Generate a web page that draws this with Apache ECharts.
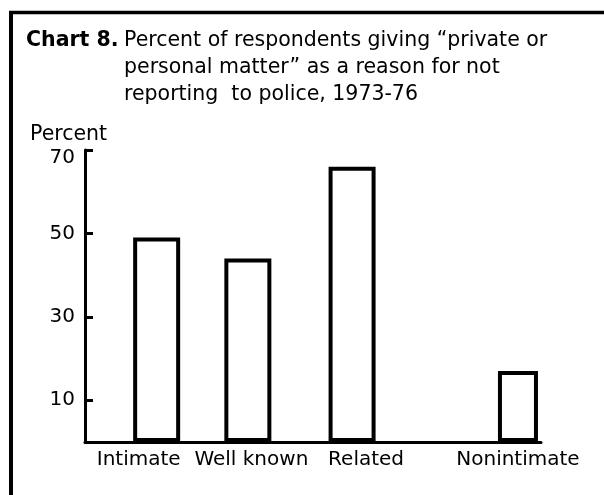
<!DOCTYPE html>
<html>
<head>
<meta charset="utf-8">
<script src="https://cdn.jsdelivr.net/npm/echarts@6/dist/echarts.min.js"></script>
<style>
  html, body { margin: 0; padding: 0; background: #fff; }
  #chart { width: 604px; height: 495px; }
</style>
</head>
<body>
<div id="chart"></div>
<script>
// ---- data ----
const categories = ['Intimate', 'Well known', 'Related', 'Nonintimate'];
const percents = [49, 44, 66, 17];
const yTicks = [10, 30, 50, 70];
// x-axis slots (blank slots reproduce the uneven spacing of the original)
const xSlots = ['', '', '', '', '', 'Intimate', '', '', '', '', '', '', 'Well known',
  '', '', '', '', '', '', '', 'Related', '', '', '', '', '', '', '', '', '', '', '', '',
  'Nonintimate', ''];
const titleLead = 'Chart 8.';
const titleText = 'Percent of respondents giving \u201cprivate or\npersonal matter\u201d as a reason for not\nreporting  to police, 1973-76';
const yName = 'Percent';

const FONT = 'DejaVu Sans';
const narrowCat = 'Nonintimate';

function valueFor(slot, wantNarrow) {
  const i = categories.indexOf(slot);
  if (i < 0) return null;
  const isNarrow = slot === narrowCat;
  return isNarrow === wantNarrow ? percents[i] : null;
}

const labelStyleKey = { 'Intimate': 'a', 'Well known': 'b', 'Related': 'c', 'Nonintimate': 'd' };
const topTick = yTicks[yTicks.length - 1];

const chart = echarts.init(document.getElementById('chart'), null, { renderer: 'canvas' });
chart.setOption({
  backgroundColor: '#ffffff',
  animation: false,
  title: [
    { text: titleLead, left: 26, top: 27.6, padding: 0,
      textStyle: { fontFamily: FONT, fontSize: 20.5, fontWeight: 'bold', color: '#000', lineHeight: 26.7 } },
    { text: titleText, left: 124, top: 27.6, padding: 0,
      textStyle: { fontFamily: FONT, fontSize: 20.5, fontWeight: 'normal', color: '#000', lineHeight: 26.7 } },
    { text: yName, left: 30, top: 121.5, padding: 0,
      textStyle: { fontFamily: FONT, fontSize: 20.5, fontWeight: 'normal', color: '#000', lineHeight: 26.7 } }
  ],
  grid: { left: 85, right: 63, top: 150, bottom: 53, outerBoundsMode: 'none', containLabel: false },
  xAxis: {
    type: 'category',
    data: xSlots,
    boundaryGap: true,
    axisLine: { show: true, lineStyle: { color: '#000', width: 3 } },
    axisTick: { show: false },
    splitLine: { show: false },
    axisLabel: {
      interval: 0,
      margin: 8,
      color: '#000',
      fontFamily: FONT,
      fontSize: 20,
      formatter: function (v) {
        if (!v) return '';
        return '{' + labelStyleKey[v] + '|' + v + '}';
      },
      rich: {
        a: { fontFamily: FONT, fontSize: 20, color: '#000', padding: [0, 36, 0, 0] },
        b: { fontFamily: FONT, fontSize: 20, color: '#000', padding: [0, 0, 0, 7] },
        c: { fontFamily: FONT, fontSize: 20, color: '#000', padding: [0, 0, 0, 28] },
        d: { fontFamily: FONT, fontSize: 20, color: '#000', padding: [0, 7, 0, 0] }
      }
    }
  },
  yAxis: {
    type: 'value',
    min: 0,
    max: 70,
    axisLine: { show: true, lineStyle: { color: '#000', width: 3 } },
    axisTick: { show: true, inside: true, length: 8, lineStyle: { color: '#000', width: 3 }, customValues: yTicks },
    axisLabel: {
      color: '#000', fontFamily: FONT, fontSize: 20, margin: 10, customValues: yTicks,
      formatter: function (v) { return v === topTick ? '{t|' + v + '}' : String(v); },
      rich: { t: { fontFamily: FONT, fontSize: 20, color: '#000', padding: [16, 0, 0, 0] } }
    },
    splitLine: { show: false }
  },
  graphic: [
    { type: 'line', shape: { x1: 11, y1: 11, x2: 11, y2: 495 }, style: { stroke: '#000', lineWidth: 4 } },
    { type: 'line', shape: { x1: 9, y1: 12.5, x2: 604, y2: 12.5 }, style: { stroke: '#000', lineWidth: 3.5 } }
  ],
  series: [
    {
      type: 'bar',
      data: xSlots.map(s => valueFor(s, true)),
      barWidth: 40,
      barGap: '-100%',
      itemStyle: { color: '#fff', borderColor: '#000', borderWidth: 4 },
      emphasis: { disabled: true }
    },
    {
      type: 'bar',
      data: xSlots.map(s => valueFor(s, false)),
      barWidth: 47,
      barGap: '-100%',
      itemStyle: { color: '#fff', borderColor: '#000', borderWidth: 4 },
      emphasis: { disabled: true }
    }
  ]
});
</script>
</body>
</html>
